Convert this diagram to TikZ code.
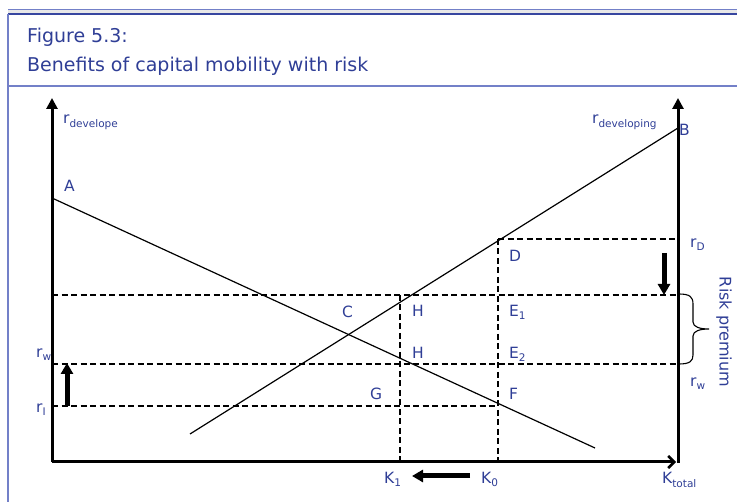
\documentclass[tikz,border=0pt]{standalone}
\usepackage{fontspec}
\setmainfont{DejaVu Sans}
\usetikzlibrary{arrows.meta}
\definecolor{txtblue}{RGB}{47,62,150}
\definecolor{bordblue}{RGB}{55,70,160}
\definecolor{lightblue}{RGB}{115,128,200}
\tikzset{
  lbl/.style={anchor=base west, inner sep=0pt, text=txtblue, font=\fontsize{15.5}{18}\selectfont},
  ttl/.style={anchor=base west, inner sep=0pt, text=txtblue, font=\fontsize{19}{22}\selectfont},
  axisline/.style={line width=3pt, black},
  curve/.style={line width=1.2pt, black},
  dash line/.style={line width=2pt, black, dash pattern=on 6pt off 3.5pt},
  bigarrow/.style={line width=5pt, -{Triangle[width=12pt,length=11pt]}},
}
\newcommand{\sub}[1]{\textsubscript{\fontsize{10.5}{12}\selectfont #1}}
\begin{document}
\begin{tikzpicture}[x=1pt,y=-1pt]
\useasboundingbox (0,0) rectangle (737,502);
% frame
\fill[gray!18] (8,9) rectangle (737,14);
\draw[lightblue, line width=0.8pt] (8,9) -- (737,9);
\draw[bordblue, line width=1.6pt] (8,14) -- (737,14);
\draw[lightblue, line width=1.4pt] (8,14) -- (8,502);
\draw[lightblue, line width=1.4pt] (8,86) -- (737,86);
\node[ttl] (t1) at (27,43) {Figure 5.3:};
\node[ttl] (t2) at (27,72) {Benefits of capital mobility with risk};
% key coordinates
\coordinate (O) at (52,462);
\coordinate (Ytop) at (52,98);
\coordinate (Xend) at (676,462);
\coordinate (R0) at (678,463);
\coordinate (Rtop) at (678,98);
\coordinate (Astart) at (52,198);
\coordinate (Aend) at (595,448);
\coordinate (Bstart) at (190,434);
\coordinate (Bend) at (678,128);
% dashed lines
\coordinate (rD0) at (498,239); \coordinate (rD1) at (678,239);
\coordinate (u0) at (52,295); \coordinate (u1) at (678,295);
\coordinate (m0) at (52,364); \coordinate (m1) at (678,364);
\coordinate (l0) at (52,406); \coordinate (l1) at (498,406);
\coordinate (k1t) at (400,295); \coordinate (k1b) at (400,462);
\coordinate (k0t) at (498,239); \coordinate (k0b) at (498,462);
\draw[dash line] (rD0) -- (rD1);
\draw[dash line] (u0) -- (u1);
\draw[dash line] (m0) -- (m1);
\draw[dash line] (l0) -- (l1);
\draw[dash line] (k1t) -- (k1b);
\draw[dash line] (k0t) -- (k0b);
% curves
\draw[curve] (Astart) -- (Aend);
\draw[curve] (Bstart) -- (Bend);
% axes
\draw[axisline, -{Triangle[width=11pt,length=11pt]}] (O) -- (Ytop);
\draw[axisline, -{Straight Barb[width=12pt,length=6pt,line width=2.5pt]}] (O) -- (Xend);
\draw[axisline, -{Triangle[width=11pt,length=11pt]}] (R0) -- (Rtop);
% thick arrows
\coordinate (ua0) at (67,406); \coordinate (ua1) at (67,363);
\coordinate (da0) at (664,253); \coordinate (da1) at (664,295);
\coordinate (la0) at (470,476); \coordinate (la1) at (412,476);
\draw[bigarrow] (ua0) -- (ua1);
\draw[bigarrow] (da0) -- (da1);
\draw[bigarrow] (la0) -- (la1);
% brace
\coordinate (brt) at (679,294);
\coordinate (brb) at (679,364);
\draw[line width=1.1pt] (brt) .. controls (690,294) and (693,297) .. (693,304)
  -- (693,322) .. controls (693,327) and (700,329) .. (709,329)
  .. controls (700,329) and (693,331) .. (693,336)
  -- (693,355) .. controls (693,361) and (690,364) .. (brb);
% labels
\node[lbl] (ldev) at (63,124) {r\sub{develope}};
\node[lbl] (lA) at (64,192) {A};
\node[lbl] (ldevg) at (592,124) {r\sub{developing}};
\node[lbl] (lB) at (679,136) {B};
\node[lbl] (lrD) at (690,248) {r\sub{D}};
\node[lbl] (lD) at (509,262) {D};
\node[lbl] (lC) at (342,318) {C};
\node[lbl] (lH1) at (412,317) {H};
\node[lbl] (lE1) at (509,317) {E\sub{1}};
\node[lbl] (lH2) at (412,359) {H};
\node[lbl] (lE2) at (509,359) {E\sub{2}};
\node[lbl] (lG) at (370,400) {G};
\node[lbl] (lF) at (509,400) {F};
\node[lbl] (lrw) at (36,358) {r\sub{w}};
\node[lbl] (lrI) at (36,413) {r\sub{I}};
\node[lbl] (lK1) at (384,484) {K\sub{1}};
\node[lbl] (lK0) at (481,484) {K\sub{0}};
\node[lbl] (lKt) at (662,484) {K\sub{total}};
\node[lbl] (lrw2) at (690,387) {r\sub{w}};
\node[inner sep=0pt, text=txtblue, font=\fontsize{16}{18}\selectfont, rotate=-90] (risk) at (724,332) {Risk premium};
\end{tikzpicture}
\end{document}
